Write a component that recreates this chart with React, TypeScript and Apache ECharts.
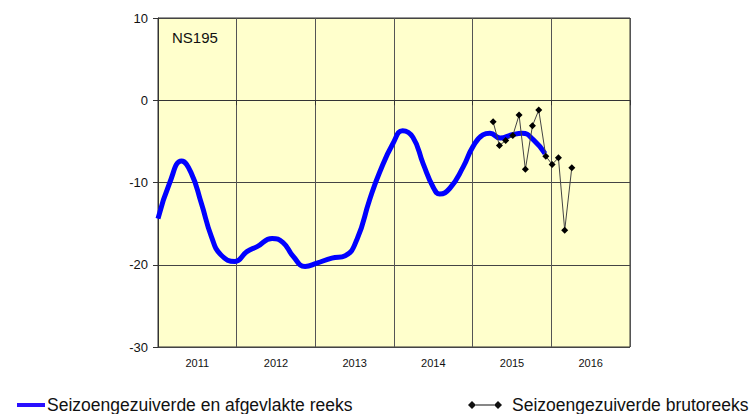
import React, { useEffect, useRef } from "react";
import * as echarts from "echarts";

const yearLabels = ["2011", "2012", "2013", "2014", "2015", "2016"];
const yTicks = { min: -30, max: 10, interval: 10 };

const smoothYears = [
  2011.0, 2011.15, 2011.3, 2011.42, 2011.55, 2011.68, 2011.8, 2011.98,
  2012.13, 2012.26, 2012.45, 2012.59, 2012.72, 2012.87, 2013.02, 2013.21,
  2013.38, 2013.53, 2013.69, 2013.82, 2013.99, 2014.11, 2014.24, 2014.37,
  2014.5, 2014.58, 2014.71, 2014.88, 2015.0, 2015.13, 2015.22, 2015.35,
  2015.5, 2015.63, 2015.77, 2015.92,
];
const smoothValues = [
  -14.4, -10.0, -7.4, -8.8, -12.5, -16.6, -18.8, -19.6,
  -18.4, -17.8, -16.8, -17.3, -19.0, -20.2, -19.8, -19.2,
  -18.9, -16.9, -12.1, -8.7, -5.2, -3.7, -4.5, -7.7,
  -10.6, -11.4, -10.7, -8.1, -5.7, -4.2, -4.0, -4.6,
  -4.2, -4.0, -4.8, -6.5,
];

const rawYears = [
  2015.26, 2015.34, 2015.42, 2015.51, 2015.59, 2015.67, 2015.76, 2015.84,
  2015.93, 2016.01, 2016.09, 2016.17, 2016.26,
];
const rawValues = [
  -2.6, -5.5, -4.9, -4.3, -1.8, -8.4, -3.1, -1.2, -6.8, -7.8, -7.0, -15.8, -8.2,
];

const smoothName = "Seizoengezuiverde en afgevlakte reeks";
const rawName = "Seizoengezuiverde brutoreeks";
const stationLabel = "NS195";

const FONT = "Liberation Sans, Arial, sans-serif";

export default function App() {
  const ref = useRef<HTMLDivElement>(null);
  useEffect(() => {
    if (!ref.current) return;
    const chart = echarts.init(ref.current, null, { renderer: "svg" });
    chart.setOption({
      animation: false,
      backgroundColor: "#ffffff",
      textStyle: { fontFamily: FONT },
      grid: {
        left: 158,
        right: 122,
        top: 18,
        bottom: 67,
        show: true,
        backgroundColor: "#ffffcc",
        borderColor: "#333333",
        borderWidth: 1,
      },
      graphic: [
        {
          type: "text",
          left: 172,
          top: 30,
          style: { text: stationLabel, font: `15px ${FONT}`, fill: "#111111" },
        },
      ],
      legend: [
        {
          data: [{ name: smoothName, icon: "rect" }],
          left: 12,
          top: 391,
          itemWidth: 28,
          itemHeight: 4,
          itemGap: 0,
          itemStyle: { color: "#2a10ff" },
          textStyle: { fontSize: 17.5, color: "#111111", fontFamily: FONT, padding: [0, 0, 0, -3] },
          selectedMode: false,
        },
        {
          data: [
            {
              name: rawName,
              icon: "path://M0,5L4,1L8,5L4,9Z M8,4.6L26,4.6L26,5.4L8,5.4Z M26,5L30,1L34,5L30,9Z",
            },
          ],
          left: 463,
          top: 391,
          itemWidth: 34,
          itemHeight: 10,
          itemStyle: { color: "#111111" },
          lineStyle: { width: 0 },
          textStyle: {
            fontSize: 17.5,
            color: "#111111",
            fontFamily: FONT,
            padding: [0, 0, 0, 5],
          },
          selectedMode: false,
        },
      ],
      xAxis: [
        {
          type: "value",
          min: 2011,
          max: 2017,
          interval: 1,
          axisLine: { show: true, lineStyle: { color: "#333333" } },
          axisTick: { show: true, length: 5, lineStyle: { color: "#333333" } },
          axisLabel: { show: false },
          splitLine: { show: true, lineStyle: { color: "#555555", width: 1 } },
        },
        {
          type: "category",
          data: yearLabels,
          position: "bottom",
          boundaryGap: true,
          axisLine: { show: false },
          axisTick: { show: false },
          splitLine: { show: false },
          axisLabel: { fontSize: 11, color: "#111111", margin: 10, fontFamily: FONT },
        },
      ],
      yAxis: {
        type: "value",
        min: yTicks.min,
        max: yTicks.max,
        interval: yTicks.interval,
        axisLine: { show: true, lineStyle: { color: "#333333" } },
        axisTick: { show: true, length: 5, lineStyle: { color: "#333333" } },
        axisLabel: { fontSize: 13, color: "#111111", margin: 10, fontFamily: FONT },
        splitLine: { show: true, lineStyle: { color: "#444444", width: 1 } },
      },
      series: [
        {
          name: smoothName,
          type: "line",
          xAxisIndex: 0,
          data: smoothYears.map((x, i) => [x, smoothValues[i]]),
          smooth: 0.5,
          showSymbol: false,
          symbol: "none",
          lineStyle: { color: "#0000ff", width: 5 },
          itemStyle: { color: "#0000ff" },
          z: 3,
        },
        {
          name: rawName,
          type: "line",
          xAxisIndex: 0,
          data: rawYears.map((x, i) => [x, rawValues[i]]),
          symbol: "diamond",
          symbolSize: 7,
          lineStyle: { color: "#444444", width: 1 },
          itemStyle: { color: "#000000" },
          z: 4,
        },
      ],
    });
    return () => chart.dispose();
  }, []);
  return (
    <div
      ref={ref}
      style={{ position: "fixed", left: 0, top: 0, width: 752, height: 414 }}
    />
  );
}
